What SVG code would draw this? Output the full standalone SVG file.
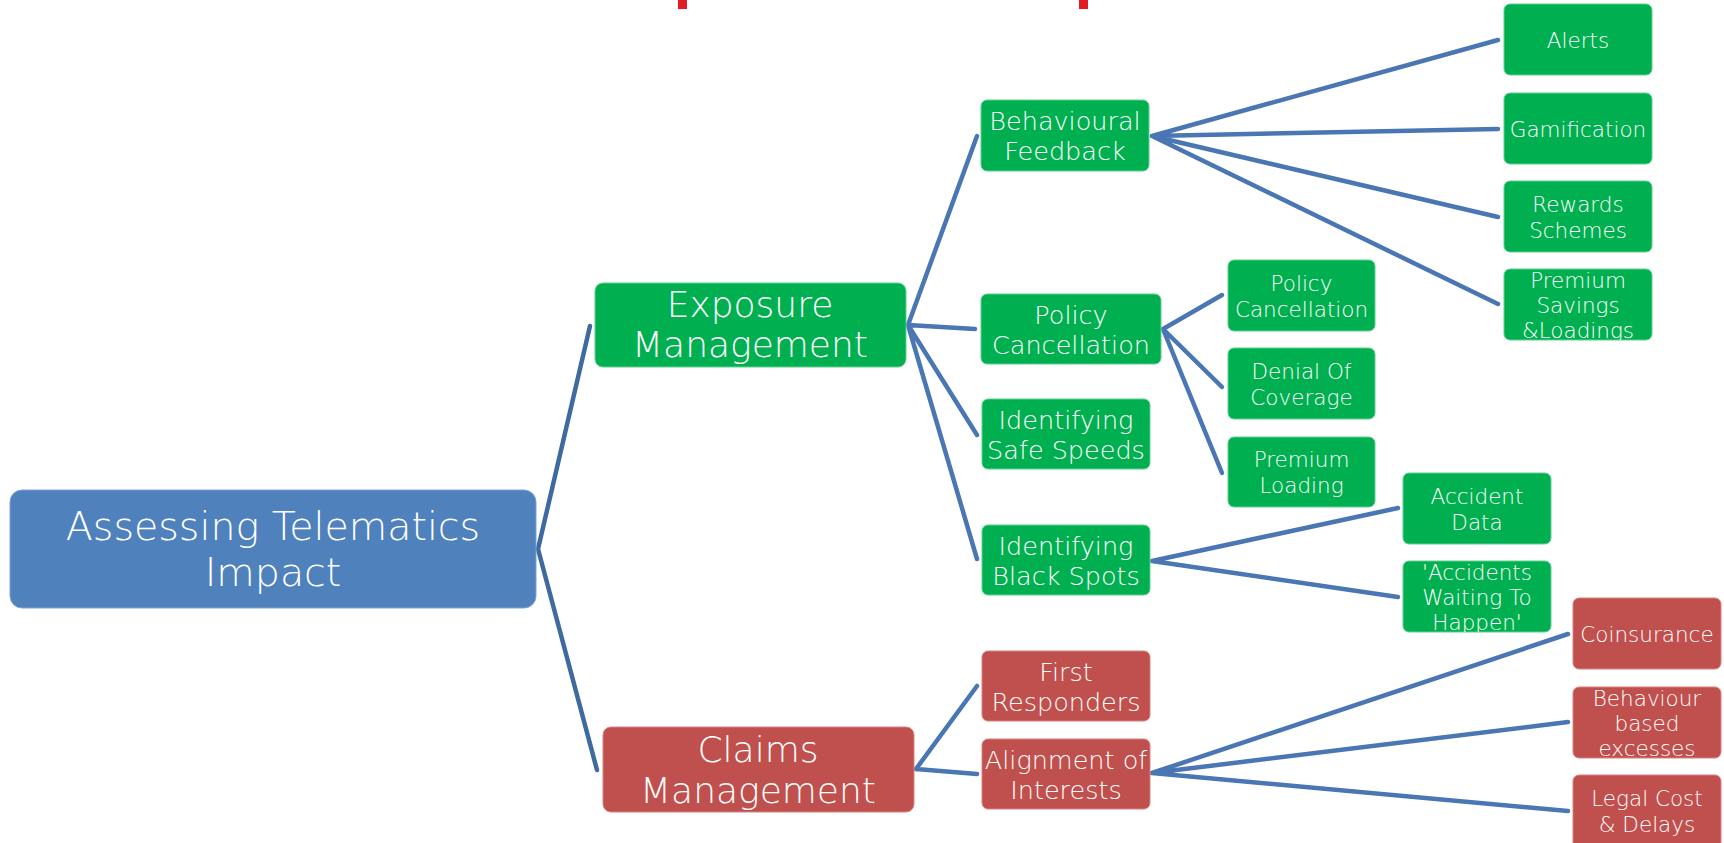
<svg xmlns="http://www.w3.org/2000/svg" width="1724" height="843" viewBox="0 0 1724 843">
<style>
.g{fill:#00B050;stroke:#5FD08F;stroke-width:1}
.r{fill:#C0504D;stroke:#D9817E;stroke-width:1}
.b{fill:#4F81BD;stroke:#7FA3D1;stroke-width:1}
text{font-family:"DejaVu Sans","Liberation Sans",sans-serif;font-weight:300;fill:#FFFFFF;text-anchor:middle}
.t1{font-size:39.5px}
.t2{font-size:36px}
.t3{font-size:25.5px}
.t4{font-size:21.5px}
.c{fill:none;stroke:#4A76B3;stroke-width:4.5;stroke-linecap:round}
.c0{stroke:#3E6AA0}
</style>
<defs>
<clipPath id="cpPS"><rect x="1504" y="269" width="148" height="71"/></clipPath>
<clipPath id="cpAW"><rect x="1403" y="561" width="148" height="71"/></clipPath>
</defs>
<rect x="678" y="0" width="9" height="9" fill="#E31B23"/>
<rect x="1079" y="0" width="9" height="9" fill="#E31B23"/>
<g id="connectors">
<path class="c c0" d="M538 549L590 326M538 549L597 770"/>
<path class="c" d="M908 325L977 136M908 325L975 329M908 325L977 435M908 325L977 559"/>
<path class="c" d="M916 769L977 686M916 769L977 774"/>
<path class="c" d="M1152 136L1498 40M1152 136L1498 129M1152 136L1498 217M1152 136L1498 304"/>
<path class="c" d="M1163 329L1222 295M1163 329L1222 387M1163 329L1222 473"/>
<path class="c" d="M1152 561L1398 508M1152 561L1398 597"/>
<path class="c" d="M1152 773L1568 634M1152 773L1568 722M1152 773L1568 811"/>
</g>
<g id="root"><rect class="b" x="10" y="490" width="526" height="118" rx="12"/><text class="t1" x="273" y="540">Assessing Telematics</text><text class="t1" x="273" y="586">Impact</text></g>
<g id="exposure"><rect class="g" x="595" y="283" width="311" height="84" rx="8"/><text class="t2" x="750" y="317">Exposure</text><text class="t2" x="750" y="357">Management</text></g>
<g id="claims"><rect class="r" x="603" y="727" width="311" height="85" rx="8"/><text class="t2" x="758" y="762">Claims</text><text class="t2" x="758" y="803">Management</text></g>
<g id="behavioural"><rect class="g" x="981" y="100" width="168" height="71" rx="6"/><text class="t3" x="1065" y="130">Behavioural</text><text class="t3" x="1065" y="160">Feedback</text></g>
<g id="policy-mid"><rect class="g" x="981" y="294" width="180" height="70" rx="6"/><text class="t3" x="1071" y="323.5">Policy</text><text class="t3" x="1071" y="353.5">Cancellation</text></g>
<g id="safe-speeds"><rect class="g" x="982" y="399" width="168" height="70" rx="6"/><text class="t3" x="1066" y="428.5">Identifying</text><text class="t3" x="1066" y="458.5">Safe Speeds</text></g>
<g id="black-spots"><rect class="g" x="982" y="525" width="168" height="70" rx="6"/><text class="t3" x="1066" y="554.5">Identifying</text><text class="t3" x="1066" y="584.5">Black Spots</text></g>
<g id="first-responders"><rect class="r" x="982" y="651" width="168" height="70" rx="6"/><text class="t3" x="1066" y="680.5">First</text><text class="t3" x="1066" y="710.5">Responders</text></g>
<g id="alignment"><rect class="r" x="982" y="739" width="168" height="70" rx="6"/><text class="t3" x="1066" y="768.5">Alignment of</text><text class="t3" x="1066" y="798.5">Interests</text></g>
<g id="alerts"><rect class="g" x="1504" y="4" width="148" height="71" rx="6"/><text class="t4" x="1578" y="48">Alerts</text></g>
<g id="gamification"><rect class="g" x="1504" y="93" width="148" height="71" rx="6"/><text class="t4" x="1578" y="136.5">Gamification</text></g>
<g id="rewards"><rect class="g" x="1504" y="181" width="148" height="71" rx="6"/><text class="t4" x="1578" y="211.5">Rewards</text><text class="t4" x="1578" y="237.5">Schemes</text></g>
<g id="premium-savings"><rect class="g" x="1504" y="269" width="148" height="71" rx="6"/><g clip-path="url(#cpPS)"><text class="t4" x="1578" y="287.5">Premium</text><text class="t4" x="1578" y="312.5">Savings</text><text class="t4" x="1578" y="337.5">&amp;Loadings</text></g></g>
<g id="policy-right"><rect class="g" x="1228" y="260" width="147" height="71" rx="6"/><text class="t4" x="1301.5" y="290.5">Policy</text><text class="t4" x="1301.5" y="316.5">Cancellation</text></g>
<g id="denial"><rect class="g" x="1228" y="348" width="147" height="71" rx="6"/><text class="t4" x="1301.5" y="378.5">Denial Of</text><text class="t4" x="1301.5" y="404.5">Coverage</text></g>
<g id="premium-loading"><rect class="g" x="1228" y="437" width="147" height="70" rx="6"/><text class="t4" x="1301.5" y="467">Premium</text><text class="t4" x="1301.5" y="493">Loading</text></g>
<g id="accident-data"><rect class="g" x="1403" y="473" width="148" height="71" rx="6"/><text class="t4" x="1477" y="503.5">Accident</text><text class="t4" x="1477" y="529.5">Data</text></g>
<g id="accidents-waiting"><rect class="g" x="1403" y="561" width="148" height="71" rx="6"/><g clip-path="url(#cpAW)"><text class="t4" x="1477" y="579.5">'Accidents</text><text class="t4" x="1477" y="604.5">Waiting To</text><text class="t4" x="1477" y="629.5">Happen'</text></g></g>
<g id="coinsurance"><rect class="r" x="1573" y="598" width="148" height="71" rx="6"/><text class="t4" x="1647" y="641.5">Coinsurance</text></g>
<g id="behaviour-excesses"><rect class="r" x="1573" y="687" width="148" height="71" rx="6"/><text class="t4" x="1647" y="705.5">Behaviour</text><text class="t4" x="1647" y="730.5">based</text><text class="t4" x="1647" y="755.5">excesses</text></g>
<g id="legal-cost"><rect class="r" x="1573" y="775" width="148" height="75" rx="6"/><text class="t4" x="1647" y="805.5">Legal Cost</text><text class="t4" x="1647" y="831.5">&amp; Delays</text></g>
</svg>
